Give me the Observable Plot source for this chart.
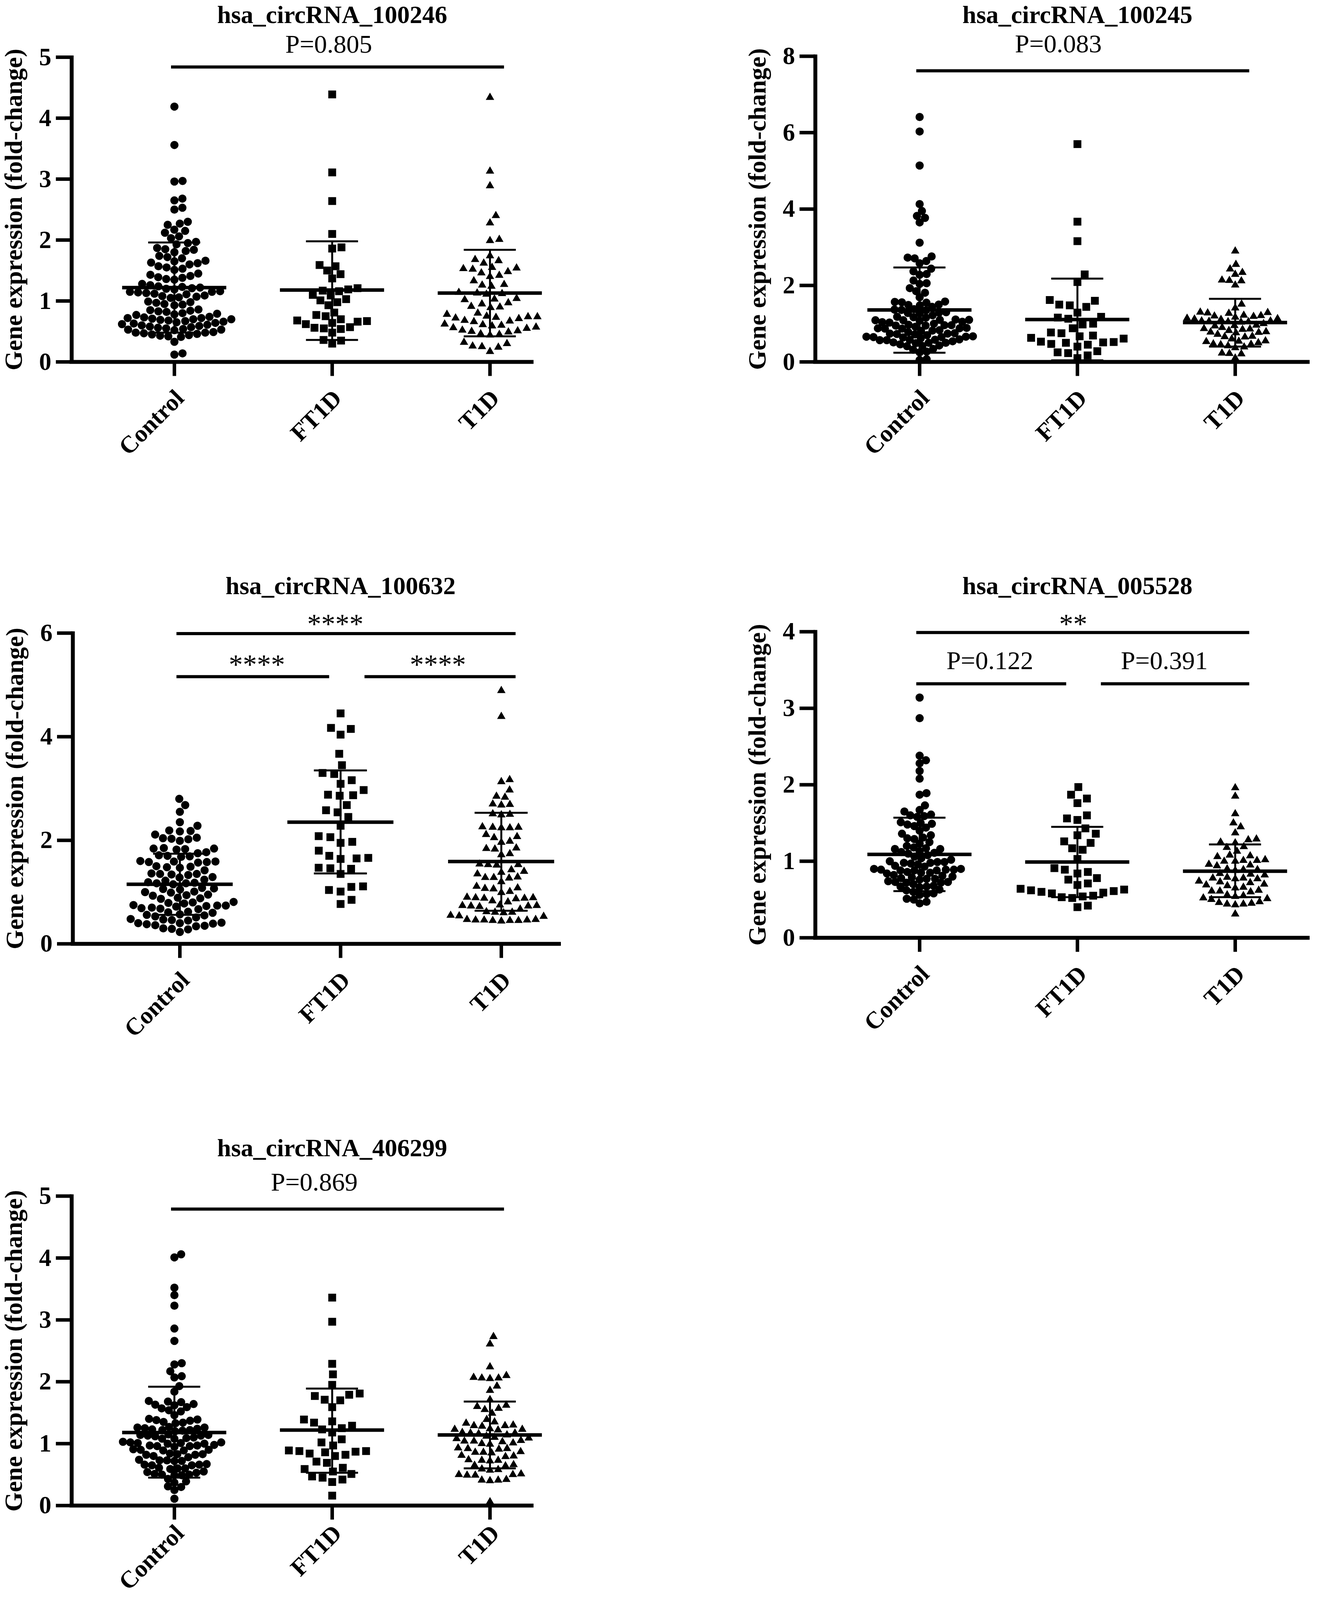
<!DOCTYPE html>
<html>
<head>
<meta charset="utf-8">
<script src="https://cdn.jsdelivr.net/npm/d3@7"></script>
<script src="https://cdn.jsdelivr.net/npm/@observablehq/plot@0.6"></script>
<style>
  html, body { margin: 0; padding: 0; background: #ffffff; }
  #page { position: relative; width: 3441px; height: 4711px; background: #ffffff; overflow: hidden; }
  #page svg { position: absolute; max-width: none; }
</style>
</head>
<body>
<div id="page"></div>
<script>
// ---------------- DATA ----------------
const groups = ["Control", "FT1D", "T1D"];
const yLabel = "Gene expression (fold-change)";

// Panel 1 : hsa_circRNA_100246
const p1Title = "hsa_circRNA_100246";
const p1Ticks = [0, 1, 2, 3, 4, 5];
const p1Control = [4.19, 3.56, 2.97, 2.96, 2.68, 2.65, 2.53, 2.50, 2.30, 2.27, 2.25, 2.17, 2.15, 2.12, 2.06, 2.03, 1.97, 1.95, 1.93, 1.87, 1.85, 1.84, 1.82, 1.80, 1.74, 1.72, 1.70, 1.66, 1.65, 1.63, 1.62, 1.60, 1.57, 1.55, 1.53, 1.51, 1.45, 1.43, 1.41, 1.39, 1.38, 1.36, 1.35, 1.28, 1.26, 1.24, 1.23, 1.22, 1.21, 1.20, 1.19, 1.16, 1.15, 1.15, 1.14, 1.13, 1.12, 1.11, 1.09, 1.08, 1.07, 1.06, 1.05, 0.99, 0.98, 0.97, 0.95, 0.94, 0.93, 0.86, 0.85, 0.84, 0.83, 0.82, 0.80, 0.79, 0.78, 0.77, 0.74, 0.73, 0.72, 0.72, 0.71, 0.70, 0.70, 0.69, 0.68, 0.67, 0.66, 0.65, 0.64, 0.63, 0.62, 0.61, 0.60, 0.59, 0.58, 0.57, 0.56, 0.55, 0.54, 0.53, 0.53, 0.52, 0.49, 0.48, 0.48, 0.47, 0.46, 0.45, 0.44, 0.43, 0.42, 0.41, 0.33, 0.14, 0.12];
const p1FT1D = [4.39, 3.11, 2.64, 2.10, 1.88, 1.86, 1.59, 1.57, 1.50, 1.44, 1.37, 1.21, 1.19, 1.17, 1.16, 1.10, 1.09, 1.03, 1.01, 0.98, 0.93, 0.81, 0.77, 0.75, 0.70, 0.68, 0.67, 0.66, 0.64, 0.62, 0.57, 0.56, 0.55, 0.54, 0.48, 0.36, 0.35, 0.30];
const p1T1D = [4.34, 3.13, 2.89, 2.40, 2.28, 2.01, 1.99, 1.74, 1.68, 1.66, 1.62, 1.55, 1.54, 1.53, 1.52, 1.48, 1.46, 1.42, 1.40, 1.33, 1.27, 1.26, 1.24, 1.14, 1.13, 1.12, 1.11, 1.04, 1.03, 1.02, 0.97, 0.95, 0.91, 0.90, 0.89, 0.80, 0.78, 0.75, 0.74, 0.74, 0.73, 0.72, 0.71, 0.68, 0.67, 0.66, 0.62, 0.61, 0.60, 0.59, 0.57, 0.56, 0.55, 0.52, 0.51, 0.50, 0.49, 0.46, 0.45, 0.44, 0.32, 0.30, 0.26, 0.25, 0.24, 0.17];
const p1Mean = [1.22, 1.18, 1.13];
const p1SdLow = [0.48, 0.36, 0.42];
const p1SdHigh = [1.96, 1.98, 1.84];
const p1Comparisons = [{from: "Control", to: "T1D", label: "P=0.805"}];

// Panel 2 : hsa_circRNA_100245
const p2Title = "hsa_circRNA_100245";
const p2Ticks = [0, 2, 4, 6, 8];
const p2Control = [6.41, 6.03, 5.14, 4.13, 3.95, 3.82, 3.77, 3.65, 3.12, 2.76, 2.73, 2.71, 2.64, 2.58, 2.44, 2.37, 2.30, 2.28, 2.13, 2.06, 2.04, 1.93, 1.85, 1.81, 1.69, 1.58, 1.57, 1.56, 1.55, 1.50, 1.49, 1.48, 1.44, 1.38, 1.37, 1.36, 1.35, 1.30, 1.29, 1.28, 1.27, 1.22, 1.18, 1.17, 1.16, 1.11, 1.10, 1.10, 1.09, 1.09, 1.08, 1.05, 1.04, 1.03, 1.00, 0.97, 0.96, 0.96, 0.95, 0.95, 0.92, 0.89, 0.88, 0.88, 0.87, 0.87, 0.83, 0.82, 0.81, 0.78, 0.75, 0.74, 0.74, 0.73, 0.72, 0.70, 0.67, 0.66, 0.66, 0.65, 0.65, 0.64, 0.62, 0.59, 0.58, 0.58, 0.57, 0.57, 0.54, 0.51, 0.50, 0.50, 0.49, 0.46, 0.43, 0.42, 0.41, 0.34, 0.32, 0.27, 0.25, 0.07, 0.05];
const p2FT1D = [5.70, 3.67, 3.16, 2.29, 2.09, 1.62, 1.60, 1.50, 1.48, 1.44, 1.29, 1.18, 1.16, 1.13, 1.00, 0.98, 0.88, 0.77, 0.75, 0.69, 0.67, 0.63, 0.61, 0.53, 0.52, 0.51, 0.50, 0.47, 0.45, 0.40, 0.28, 0.25, 0.23, 0.17, 0.10];
const p2T1D = [2.90, 2.55, 2.43, 2.34, 2.29, 2.14, 2.13, 2.12, 2.01, 1.51, 1.41, 1.30, 1.29, 1.28, 1.27, 1.22, 1.21, 1.20, 1.19, 1.17, 1.14, 1.13, 1.12, 1.11, 1.07, 1.07, 1.06, 1.05, 1.05, 1.04, 1.00, 0.96, 0.95, 0.94, 0.90, 0.87, 0.86, 0.85, 0.82, 0.79, 0.78, 0.77, 0.76, 0.72, 0.67, 0.66, 0.65, 0.60, 0.55, 0.54, 0.53, 0.50, 0.47, 0.46, 0.45, 0.42, 0.39, 0.37, 0.23, 0.22, 0.21, 0.10];
const p2Mean = [1.36, 1.11, 1.03];
const p2SdLow = [0.24, 0.04, 0.40];
const p2SdHigh = [2.47, 2.18, 1.65];
const p2Comparisons = [{from: "Control", to: "T1D", label: "P=0.083"}];

// Panel 3 : hsa_circRNA_100632
const p3Title = "hsa_circRNA_100632";
const p3Ticks = [0, 2, 4, 6];
const p3Control = [2.80, 2.68, 2.55, 2.35, 2.28, 2.19, 2.18, 2.17, 2.11, 2.05, 2.04, 2.03, 2.02, 1.99, 1.85, 1.84, 1.84, 1.83, 1.82, 1.77, 1.75, 1.71, 1.70, 1.69, 1.68, 1.60, 1.59, 1.59, 1.58, 1.58, 1.57, 1.50, 1.49, 1.48, 1.47, 1.42, 1.36, 1.35, 1.35, 1.34, 1.33, 1.29, 1.28, 1.24, 1.22, 1.19, 1.18, 1.17, 1.17, 1.15, 1.08, 1.07, 1.06, 1.05, 1.01, 1.00, 0.99, 0.95, 0.94, 0.93, 0.89, 0.88, 0.87, 0.81, 0.80, 0.79, 0.78, 0.75, 0.74, 0.74, 0.73, 0.72, 0.70, 0.69, 0.68, 0.67, 0.62, 0.61, 0.60, 0.57, 0.56, 0.55, 0.53, 0.51, 0.48, 0.47, 0.46, 0.45, 0.41, 0.40, 0.40, 0.39, 0.38, 0.36, 0.35, 0.34, 0.30, 0.29, 0.28, 0.23];
const p3FT1D = [4.45, 4.17, 4.15, 4.04, 3.67, 3.45, 3.30, 3.28, 3.16, 3.09, 2.97, 2.88, 2.87, 2.86, 2.68, 2.58, 2.54, 2.45, 2.28, 2.08, 2.06, 1.97, 1.95, 1.80, 1.70, 1.66, 1.65, 1.64, 1.47, 1.46, 1.45, 1.35, 1.11, 1.10, 1.04, 1.01, 0.85, 0.77];
const p3T1D = [4.89, 4.39, 3.17, 3.13, 2.97, 2.85, 2.83, 2.70, 2.69, 2.68, 2.51, 2.50, 2.49, 2.26, 2.25, 2.25, 2.24, 2.24, 2.11, 2.07, 2.05, 1.98, 1.96, 1.85, 1.84, 1.83, 1.74, 1.72, 1.54, 1.53, 1.53, 1.52, 1.43, 1.40, 1.38, 1.35, 1.29, 1.28, 1.28, 1.27, 1.20, 1.11, 1.08, 1.07, 1.06, 1.01, 0.99, 0.90, 0.89, 0.89, 0.88, 0.88, 0.87, 0.83, 0.81, 0.75, 0.74, 0.74, 0.73, 0.73, 0.72, 0.67, 0.62, 0.61, 0.61, 0.60, 0.55, 0.54, 0.53, 0.47, 0.47, 0.46, 0.46, 0.46, 0.45, 0.45, 0.45, 0.44];
const p3Mean = [1.15, 2.35, 1.59];
const p3SdLow = [0.56, 1.36, 0.64];
const p3SdHigh = [1.74, 3.35, 2.53];
const p3Comparisons = [
  {from: "Control", to: "T1D", label: "****"},
  {from: "Control", to: "FT1D", label: "****"},
  {from: "FT1D", to: "T1D", label: "****"}
];

// Panel 4 : hsa_circRNA_005528
const p4Title = "hsa_circRNA_005528";
const p4Ticks = [0, 1, 2, 3, 4];
const p4Control = [3.14, 2.87, 2.38, 2.32, 2.28, 2.18, 2.08, 1.89, 1.87, 1.73, 1.67, 1.65, 1.61, 1.60, 1.59, 1.58, 1.51, 1.50, 1.49, 1.48, 1.46, 1.44, 1.40, 1.36, 1.34, 1.31, 1.30, 1.29, 1.25, 1.23, 1.20, 1.18, 1.17, 1.16, 1.16, 1.13, 1.12, 1.11, 1.10, 1.08, 1.06, 1.04, 1.02, 1.00, 0.99, 0.99, 0.98, 0.98, 0.97, 0.96, 0.94, 0.93, 0.90, 0.90, 0.89, 0.89, 0.89, 0.88, 0.88, 0.88, 0.86, 0.85, 0.85, 0.84, 0.82, 0.81, 0.80, 0.79, 0.78, 0.77, 0.77, 0.76, 0.74, 0.73, 0.73, 0.72, 0.72, 0.70, 0.68, 0.67, 0.67, 0.66, 0.63, 0.62, 0.60, 0.58, 0.57, 0.56, 0.51, 0.50, 0.47, 0.45];
const p4FT1D = [1.97, 1.87, 1.82, 1.76, 1.60, 1.56, 1.54, 1.43, 1.36, 1.34, 1.26, 1.24, 1.17, 1.15, 1.03, 0.91, 0.89, 0.86, 0.84, 0.78, 0.76, 0.71, 0.69, 0.64, 0.63, 0.62, 0.61, 0.60, 0.59, 0.58, 0.55, 0.54, 0.53, 0.52, 0.42, 0.40];
const p4T1D = [1.96, 1.85, 1.62, 1.50, 1.45, 1.37, 1.29, 1.28, 1.25, 1.24, 1.19, 1.18, 1.13, 1.08, 1.07, 1.06, 1.02, 1.01, 1.01, 1.00, 1.00, 0.96, 0.95, 0.94, 0.90, 0.89, 0.89, 0.88, 0.84, 0.83, 0.82, 0.79, 0.78, 0.78, 0.77, 0.77, 0.74, 0.73, 0.72, 0.70, 0.69, 0.68, 0.66, 0.65, 0.62, 0.61, 0.61, 0.60, 0.56, 0.55, 0.54, 0.52, 0.51, 0.50, 0.47, 0.46, 0.45, 0.44, 0.44, 0.43, 0.31];
const p4Mean = [1.09, 0.99, 0.87];
const p4SdLow = [0.61, 0.53, 0.53];
const p4SdHigh = [1.57, 1.45, 1.22];
const p4Comparisons = [
  {from: "Control", to: "T1D", label: "**"},
  {from: "Control", to: "FT1D", label: "P=0.122"},
  {from: "FT1D", to: "T1D", label: "P=0.391"}
];

// Panel 5 : hsa_circRNA_406299
const p5Title = "hsa_circRNA_406299";
const p5Ticks = [0, 1, 2, 3, 4, 5];
const p5Control = [4.06, 4.01, 3.52, 3.40, 3.23, 2.86, 2.66, 2.30, 2.28, 2.17, 2.09, 2.07, 1.93, 1.84, 1.69, 1.68, 1.67, 1.64, 1.63, 1.62, 1.59, 1.57, 1.54, 1.52, 1.46, 1.40, 1.39, 1.38, 1.37, 1.35, 1.34, 1.33, 1.27, 1.26, 1.26, 1.25, 1.24, 1.23, 1.22, 1.22, 1.21, 1.20, 1.15, 1.14, 1.14, 1.13, 1.13, 1.12, 1.10, 1.09, 1.08, 1.08, 1.03, 1.02, 1.02, 1.01, 1.01, 1.00, 1.00, 0.98, 0.97, 0.97, 0.96, 0.96, 0.95, 0.91, 0.90, 0.90, 0.89, 0.89, 0.84, 0.83, 0.83, 0.82, 0.82, 0.80, 0.78, 0.74, 0.73, 0.73, 0.72, 0.72, 0.67, 0.66, 0.66, 0.65, 0.65, 0.61, 0.60, 0.60, 0.59, 0.55, 0.54, 0.53, 0.51, 0.50, 0.50, 0.49, 0.49, 0.43, 0.39, 0.37, 0.31, 0.30, 0.25, 0.11];
const p5FT1D = [3.36, 2.97, 2.29, 2.12, 1.95, 1.81, 1.79, 1.77, 1.71, 1.70, 1.59, 1.39, 1.36, 1.34, 1.29, 1.25, 1.23, 1.18, 1.07, 1.02, 0.97, 0.89, 0.88, 0.88, 0.87, 0.86, 0.84, 0.82, 0.80, 0.71, 0.69, 0.61, 0.59, 0.55, 0.51, 0.47, 0.45, 0.42, 0.38, 0.16];
const p5T1D = [2.73, 2.61, 2.24, 2.10, 2.07, 2.06, 2.06, 2.05, 1.93, 1.86, 1.71, 1.62, 1.60, 1.57, 1.55, 1.49, 1.39, 1.35, 1.33, 1.30, 1.29, 1.29, 1.28, 1.24, 1.23, 1.23, 1.22, 1.18, 1.17, 1.17, 1.16, 1.14, 1.12, 1.10, 1.09, 1.08, 1.05, 1.04, 1.04, 1.03, 1.01, 1.00, 0.99, 0.93, 0.92, 0.92, 0.91, 0.87, 0.86, 0.86, 0.85, 0.81, 0.80, 0.79, 0.74, 0.73, 0.73, 0.72, 0.66, 0.65, 0.64, 0.59, 0.58, 0.57, 0.51, 0.50, 0.50, 0.49, 0.49, 0.42, 0.41, 0.41, 0.40, 0.06];
const p5Mean = [1.18, 1.22, 1.14];
const p5SdLow = [0.45, 0.53, 0.60];
const p5SdHigh = [1.92, 1.89, 1.68];
const p5Comparisons = [{from: "Control", to: "T1D", label: "P=0.869"}];

// ---------------- LAYOUT (page pixels of the 3441 x 4711 figure) ----------------
const FIG_W = 3441, FIG_H = 4711;
const layouts = [
  {left: 0, top: 0, width: 1720, height: 1600, axisX: 183, axisEnd: 1366, y0: 1065, yTop: 168, tick0: 446, tickStep: 404, titleY: 37,
   levels: [4.84], labelY: [5.21], labelDx: [-23], dist: [21, 24, 24]},
  {left: 1720, top: 0, width: 1721, height: 1600, axisX: 2087, axisEnd: 3353, y0: 1065, yTop: 165, tick0: 2354, tickStep: 404, titleY: 37,
   levels: [7.62], labelY: [8.32], labelDx: [-63], dist: [18, 27, 19]},
  {left: 0, top: 1620, width: 1720, height: 1660, axisX: 186, axisEnd: 1436, y0: 2778, yTop: 1863, tick0: 460, tickStep: 411.5, titleY: 1725,
   levels: [5.99, 5.16, 5.16], labelY: [6.26, 5.48, 5.48], labelDx: [-28, 10, -6], dist: [22, 30, 22]},
  {left: 1720, top: 1620, width: 1721, height: 1660, axisX: 2087, axisEnd: 3353, y0: 2760, yTop: 1859, tick0: 2354, tickStep: 404, titleY: 1725,
   levels: [3.99, 3.32, 3.32], labelY: [4.16, 3.62, 3.62], labelDx: [-25, -4, -28], dist: [18, 27, 21]},
  {left: 0, top: 3300, width: 1720, height: 1411, axisX: 183, axisEnd: 1366, y0: 4467, yTop: 3556, tick0: 446, tickStep: 404, titleY: 3415,
   levels: [4.79], labelY: [5.22], labelDx: [-60], dist: [19, 27, 21], shiftY: -30, labelLift: 22}
];

const panels = [
  {title: p1Title, ticks: p1Ticks, yMax: 5, series: [p1Control, p1FT1D, p1T1D], mean: p1Mean, sdLow: p1SdLow, sdHigh: p1SdHigh, comparisons: p1Comparisons},
  {title: p2Title, ticks: p2Ticks, yMax: 8, series: [p2Control, p2FT1D, p2T1D], mean: p2Mean, sdLow: p2SdLow, sdHigh: p2SdHigh, comparisons: p2Comparisons},
  {title: p3Title, ticks: p3Ticks, yMax: 6, series: [p3Control, p3FT1D, p3T1D], mean: p3Mean, sdLow: p3SdLow, sdHigh: p3SdHigh, comparisons: p3Comparisons},
  {title: p4Title, ticks: p4Ticks, yMax: 4, series: [p4Control, p4FT1D, p4T1D], mean: p4Mean, sdLow: p4SdLow, sdHigh: p4SdHigh, comparisons: p4Comparisons},
  {title: p5Title, ticks: p5Ticks, yMax: 5, series: [p5Control, p5FT1D, p5T1D], mean: p5Mean, sdLow: p5SdLow, sdHigh: p5SdHigh, comparisons: p5Comparisons}
];

// ---------------- STYLE ----------------
const serif = "'Liberation Serif', 'Times New Roman', Times, serif";
const shapes = ["circle", "square", "triangle"];
const radii = [10.5, 11.3, 8.0];

// The figure keeps its proportions inside the visible window height.
const ky = Math.min(1, (window.innerHeight || FIG_H) / FIG_H);
const page = document.getElementById("page");
page.style.height = Math.floor(FIG_H * ky) + "px";

// Beeswarm: each value keeps its y; x offset is the closest-to-center free slot (pixel space).
function beeswarm(values, gi, ppuY, ppuX, distPx) {
  const sorted = values.slice().sort((a, b) => a - b);
  const placed = [];
  const out = [];
  const d2 = distPx * distPx;
  for (const v of sorted) {
    const y = v * ppuY;
    const near = placed.filter(p => Math.abs(p.y - y) < distPx);
    const cands = [0];
    for (const p of near) {
      const dx = Math.sqrt(d2 - (p.y - y) * (p.y - y));
      cands.push(p.x + dx, p.x - dx);
    }
    cands.sort((a, b) => Math.abs(a) - Math.abs(b));
    let x = 0;
    for (const c of cands) {
      if (near.every(p => (p.x - c) * (p.x - c) + (p.y - y) * (p.y - y) >= d2 - 1e-6)) { x = c; break; }
    }
    placed.push({x, y});
    out.push({group: groups[gi], value: v, pos: gi + x / ppuX});
  }
  return out;
}

function drawPanel(P, L0) {
  const sh = L0.shiftY || 0;
  const L = {...L0,
    top: L0.top * ky + sh, height: L0.height * ky, y0: L0.y0 * ky + sh, yTop: L0.yTop * ky + sh,
    titleY: Math.max(L0.titleY * ky, L0.top * ky + 38) + sh};
  const ppuX = L.tickStep;
  const ppuY = (L.y0 - L.yTop) / P.yMax;
  const xmin = -(L.tick0 - L.axisX) / ppuX;
  const xmax = (L.axisEnd - L.tick0) / ppuX;
  const idx = g => groups.indexOf(g);
  const lift = L0.labelLift || 0;

  const summary = groups.map((g, i) => ({i, mean: P.mean[i], lo: P.sdLow[i], hi: P.sdHigh[i]}));
  const comps = P.comparisons.map((c, k) => {
    const f = idx(c.from), t = idx(c.to);
    const x1 = f === 1 ? 1.15 : f - 0.02;
    const x2 = t === 1 ? 0.93 : t + 0.09;
    return {x1, x2, xm: (x1 + x2) / 2, level: L.levels[k], ly: L.labelY[k], dx: L.labelDx[k], label: c.label,
            star: c.label.includes("*")};
  });

  const dotMarks = P.series.map((vals, gi) =>
    Plot.dot(beeswarm(vals, gi, ppuY, ppuX, L.dist[gi]), {
      x: "pos", y: "value", symbol: shapes[gi], r: radii[gi], fill: "black", stroke: "none"
    })
  );

  const textBase = {fontFamily: serif, fill: "black"};
  const svg = Plot.plot({
    width: L.width,
    height: L.height,
    marginLeft: L.axisX - L.left,
    marginRight: L.left + L.width - L.axisEnd,
    marginTop: L.yTop - L.top,
    marginBottom: L.top + L.height - L.y0,
    x: {type: "linear", domain: [xmin, xmax], axis: null},
    y: {type: "linear", domain: [0, P.yMax], axis: null},
    style: {background: "transparent", overflow: "visible", color: "black", fontFamily: serif},
    marks: [
      // axes
      Plot.ruleY([0], {x1: xmin - 5 / ppuX, x2: xmax, stroke: "black", strokeWidth: 10}),
      Plot.ruleX([xmin], {y1: -5 / ppuY, y2: P.yMax + 4 / ppuY, stroke: "black", strokeWidth: 10}),
      Plot.ruleY(P.ticks, {y: d => d, x1: xmin - 40 / ppuX, x2: xmin, stroke: "black", strokeWidth: 9}),
      Plot.text(P.ticks, {...textBase, x: xmin, y: d => d, text: d => `${d}`, dx: -52, textAnchor: "end",
        fontSize: 63, fontWeight: "bold"}),
      Plot.ruleX([0, 1, 2], {x: d => d, y1: -42 * ky / ppuY, y2: 0, stroke: "black", strokeWidth: 9}),
      Plot.text(groups, {...textBase, x: (d, i) => i, y: 0, text: d => d, dx: 14, dy: 95 * ky - lift, rotate: -45, textAnchor: "end",
        fontSize: 62, fontWeight: "bold"}),
      Plot.text([yLabel], {...textBase, x: xmin, y: P.yMax / 2, text: d => d, dx: -148, rotate: -90,
        fontSize: 64, fontWeight: "bold"}),
      Plot.text([P.title], {...textBase, x: 1, y: P.yMax, text: d => d, dy: L.titleY - L.yTop,
        fontSize: 64, fontWeight: "bold"}),
      // points
      ...dotMarks,
      // mean +/- SD
      Plot.ruleX(summary, {x: "i", y1: "lo", y2: "hi", stroke: "black", strokeWidth: 5}),
      Plot.ruleY(summary, {y: "lo", x1: d => d.i - 0.165, x2: d => d.i + 0.165, stroke: "black", strokeWidth: 5}),
      Plot.ruleY(summary, {y: "hi", x1: d => d.i - 0.165, x2: d => d.i + 0.165, stroke: "black", strokeWidth: 5}),
      Plot.ruleY(summary, {y: "mean", x1: d => d.i - 0.33, x2: d => d.i + 0.33, stroke: "black", strokeWidth: 9}),
      // significance bars and labels
      Plot.ruleY(comps, {y: "level", x1: "x1", x2: "x2", stroke: "black", strokeWidth: 8}),
      Plot.text(comps.filter(d => !d.star), {...textBase, x: d => d.xm + d.dx / ppuX, y: "ly", text: "label", fontSize: 66}),
      Plot.text(comps.filter(d => d.star), {...textBase, x: d => d.xm + d.dx / ppuX, y: "ly", text: "label", dy: 12, fontSize: 72})
    ]
  });
  svg.style.left = L.left + "px";
  svg.style.top = L.top + "px";
  page.appendChild(svg);
}

panels.forEach((P, k) => drawPanel(P, layouts[k]));
</script>
</body>
</html>
